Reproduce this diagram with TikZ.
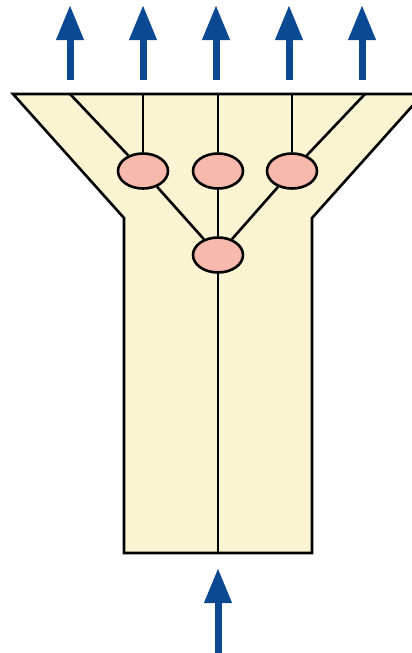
\documentclass[tikz,border=0pt]{standalone}
\usetikzlibrary{arrows.meta,shapes.geometric}
\definecolor{cream}{HTML}{FBF4D3}
\definecolor{pinkfill}{HTML}{F7B9AB}
\definecolor{arrowblue}{HTML}{0B4A93}
\begin{document}
\begin{tikzpicture}[x=1pt,y=-1pt,
  outline/.style={draw=black,line width=2.6pt,line join=miter,fill=cream},
  neuron/.style={ellipse,draw=black,line width=2.6pt,fill=pinkfill,minimum width=50pt,minimum height=35pt,inner sep=0pt},
  wire/.style={draw=black,line width=2.6pt},
  flow/.style={draw=arrowblue,line width=7pt,-{Triangle[length=35pt,width=26pt]}}]
\useasboundingbox (0,0) rectangle (412,653);
\clip (0,0) rectangle (412,653);
% funnel
\path[outline] (13,94) -- (124,218) -- (124,553) -- (312,553) -- (312,218) -- (423,94) -- cycle;
% anchor points on the top edge and bottom
\coordinate (t1) at (70,94);
\coordinate (t2) at (143,94);
\coordinate (t3) at (218,94);
\coordinate (t4) at (292,94);
\coordinate (t5) at (365,94);
\coordinate (b) at (218,553);
% neurons
\node[neuron] (n1) at (143,171) {};
\node[neuron] (n2) at (218,171) {};
\node[neuron] (n3) at (292,171) {};
\node[neuron] (n4) at (218,255) {};
% wires
\draw[wire] (t1) -- (n1);
\draw[wire] (t2) -- (n1);
\draw[wire] (t3) -- (n2);
\draw[wire] (t4) -- (n3);
\draw[wire] (t5) -- (n3);
\draw[wire] (n1) -- (n4);
\draw[wire] (n2) -- (n4);
\draw[wire] (n3) -- (n4);
\draw[wire] (n4) -- (b);
% output arrows
\coordinate (a1s) at (70,80);  \coordinate (a1e) at (70,5);
\coordinate (a2s) at (143,80); \coordinate (a2e) at (143,5);
\coordinate (a3s) at (216,80); \coordinate (a3e) at (216,5);
\coordinate (a4s) at (289,80); \coordinate (a4e) at (289,5);
\coordinate (a5s) at (362,80); \coordinate (a5e) at (362,5);
\draw[flow] (a1s) -- (a1e);
\draw[flow] (a2s) -- (a2e);
\draw[flow] (a3s) -- (a3e);
\draw[flow] (a4s) -- (a4e);
\draw[flow] (a5s) -- (a5e);
% input arrow
\coordinate (ins) at (218,653);
\coordinate (ine) at (218,568);
\draw[flow] (ins) -- (ine);
\end{tikzpicture}
\end{document}
